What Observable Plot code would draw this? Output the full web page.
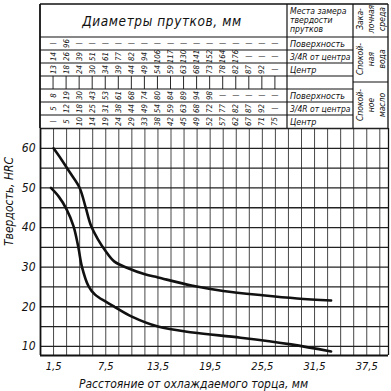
<!DOCTYPE html>
<html><head><meta charset="utf-8">
<script src="https://cdn.jsdelivr.net/npm/d3@7"></script>
<script src="https://cdn.jsdelivr.net/npm/@observablehq/plot@0.6"></script>
<style>
html,body{margin:0;padding:0;background:#fff;}
</style></head><body><div id="chart"></div>
<script>
const FONT = '"DejaVu Sans Condensed","Liberation Sans Narrow","DejaVu Sans",sans-serif';

// Curves (distance from quenched end, mm -> hardness HRC)
const upperX = [1.5, 2.4, 3.5, 4.5, 5.2, 5.8, 6.6, 7.5, 8.5, 10, 12, 13.5, 17.5, 21, 25.5, 29.5, 33.4];
const upperY = [60, 57.2, 53.5, 50, 45, 40.5, 37, 34, 31.4, 29.8, 28.2, 27.4, 25.3, 24, 22.9, 22.1, 21.6];
const lowerX = [1.2, 2.1, 3.0, 3.8, 4.35, 4.75, 5.5, 6.3, 7.5, 8.5, 10.5, 13.5, 17.5, 23, 28.8, 33.4];
const lowerY = [50, 47.8, 44.6, 40.3, 35, 30.2, 25.3, 23, 21.3, 20, 17.5, 15, 13.5, 12.2, 10.5, 8.7];

const yTicks = [10, 20, 30, 40, 50, 60];
const xTicks = [1.5, 7.5, 13.5, 19.5, 25.5, 31.5, 37.5];
const gridX = [1.5,3,4.5,6,7.5,9,10.5,12,13.5,15,16.5,18,19.5,21,22.5,24,25.5,27,28.5,30,31.5,33,34.5,36,37.5,39];
const gridY = [10,15,20,25,30,35,40,45,50,55,60,65];

// Table: bar diameters (mm) per column of distance from quenched end
const colDist = [1.5,3,4.5,6,7.5,9,10.5,12,13.5,15,16.5,18,19.5,21,22.5,24,25.5,27];
const waterSurface = [null,96,null,null,null,null,null,null,null,null,null,null,null,null,null,null,null,null];
const water34R     = [14,26,39,51,61,77,82,94,106,117,130,141,152,164,176,null,null,null];
const waterCenter  = [13,18,24,30,34,39,44,49,54,59,63,68,73,78,82,87,92,null];
const oilSurface   = [8,19,30,43,53,61,68,74,80,84,89,94,98,null,null,null,null,null];
const oil34R       = [5,12,18,25,31,38,44,49,54,59,63,68,72,77,82,87,92,null];
const oilCenter    = [null,5,10,14,19,24,29,33,38,42,45,49,52,57,62,67,71,75];
const rowNames = ["Поверхность", "3/4R от центра", "Центр"];

const upper = upperX.map((x, i) => ({x, y: upperY[i]}));
const lower = lowerX.map((x, i) => ({x, y: lowerY[i]}));
const fmt = d => String(d).replace(".", ",");

const plot = Plot.plot({
  width: 391, height: 391,
  marginLeft: 40, marginRight: 3, marginTop: 128, marginBottom: 36,
  x: {domain: [0, 40]},
  y: {domain: [7.7, 65]},
  style: {fontFamily: FONT, fontStyle: "italic", background: "#fff", color: "#111"},
  marks: [
    Plot.ruleX(gridX, {y1: 7.7, y2: 65, stroke: "#333", strokeWidth: 0.9}),
    Plot.ruleY(gridY, {x1: 0, x2: 40, stroke: "#222", strokeWidth: 1.3}),
    Plot.ruleY([7.7], {x1: 0, x2: 40, stroke: "#111", strokeWidth: 2}),
    Plot.ruleX([0], {y1: 7.7, y2: 65, stroke: "#111", strokeWidth: 1.8}),
    Plot.ruleX([40], {y1: 7.7, y2: 65, stroke: "#111", strokeWidth: 1.3}),
    Plot.line(upper, {x: "x", y: "y", curve: "catmull-rom", stroke: "#111", strokeWidth: 2.6}),
    Plot.line(lower, {x: "x", y: "y", curve: "catmull-rom", stroke: "#111", strokeWidth: 2.6}),
    Plot.axisY(yTicks, {tickSize: 0, tickPadding: 5, fontSize: 12, label: null}),
    Plot.axisX(xTicks, {tickSize: 0, tickPadding: 7, fontSize: 11, tickFormat: fmt, label: null}),
    Plot.text(["Твердость, HRC"], {text: d => d, frameAnchor: "left", dx: -31, dy: 4, rotate: -90, fontSize: 12}),
    Plot.text(["Расстояние от охлаждаемого торца, мм"], {text: d => d, frameAnchor: "bottom", dx: -21, dy: 32, fontSize: 12})
  ]
});

// Header table drawn above the frame, columns placed with the plot's x scale
const sx = plot.scale("x");
const svg = d3.select(plot);
const g = svg.append("g").attr("font-family", FONT).attr("font-style", "italic").attr("fill", "#111");
const L = 40, R = 388, T = 4, B = 128, C1 = 287, C2 = 353;
function ln(x1, y1, x2, y2, w) {
  g.append("line").attr("x1", x1).attr("y1", y1).attr("x2", x2).attr("y2", y2)
    .attr("stroke", "#111").attr("stroke-width", w);
}
function txt(s, x, y, size, opts = {}) {
  const t = g.append("text").attr("font-size", size).attr("dominant-baseline", "central")
    .attr("text-anchor", opts.anchor || "middle").text(s);
  if (opts.rotate) t.attr("transform", `translate(${x},${y}) rotate(-90)`);
  else t.attr("x", x).attr("y", y);
  if (opts.ls) t.attr("letter-spacing", opts.ls);
  return t;
}
ln(L, T, R, T, 1.6); ln(L, T, L, B, 1.8); ln(R, T, R, B, 1.3);
ln(C1, T, C1, B, 1.2); ln(C2, T, C2, B, 1.2);
ln(L, 37, R, 37, 1.2);
[50, 63, 76, 89, 102, 115].forEach(y => ln(L, y, C2, y, 1.2));
ln(C2, 82, R, 82, 1.2);
gridX.filter(v => sx.apply(v) < C1 - 2).forEach(v => ln(sx.apply(v), 76, sx.apply(v), 89, 0.9));

txt("Диаметры прутков, мм", 162, 21, 13.5, {ls: 0.6});
["Места замера", "твердости", "прутков"].forEach((s, i) => txt(s, 290, 11 + i * 9, 8.6, {anchor: "start"}));
["Зака-", "лочная", "среда"].forEach((s, i) => txt(s, 360 + i * 11, 19, 8.5, {rotate: true}));
["Спокой-", "ная", "вода"].forEach((s, i) => txt(s, 360 + i * 11, 59, 8.5, {rotate: true}));
["Спокой-", "ное", "масло"].forEach((s, i) => txt(s, 360 + i * 11, 105, 8.5, {rotate: true}));

const blocks = [
  {rows: [waterSurface, water34R, waterCenter], y0: 37},
  {rows: [oilSurface, oil34R, oilCenter], y0: 89}
];
blocks.forEach(b => {
  b.rows.forEach((row, r) => {
    const yc = b.y0 + 6.5 + r * 13;
    txt(rowNames[r], 290, yc, r === 1 ? 8.5 : 9, {anchor: "start"});
    row.forEach((v, i) => {
      const xc = sx.apply(colDist[i]);
      if (v == null) txt("—", xc, yc, 8);
      else txt(String(v), xc, yc, 7.8, {rotate: true});
    });
  });
});

document.getElementById("chart").appendChild(plot);
</script></body></html>
